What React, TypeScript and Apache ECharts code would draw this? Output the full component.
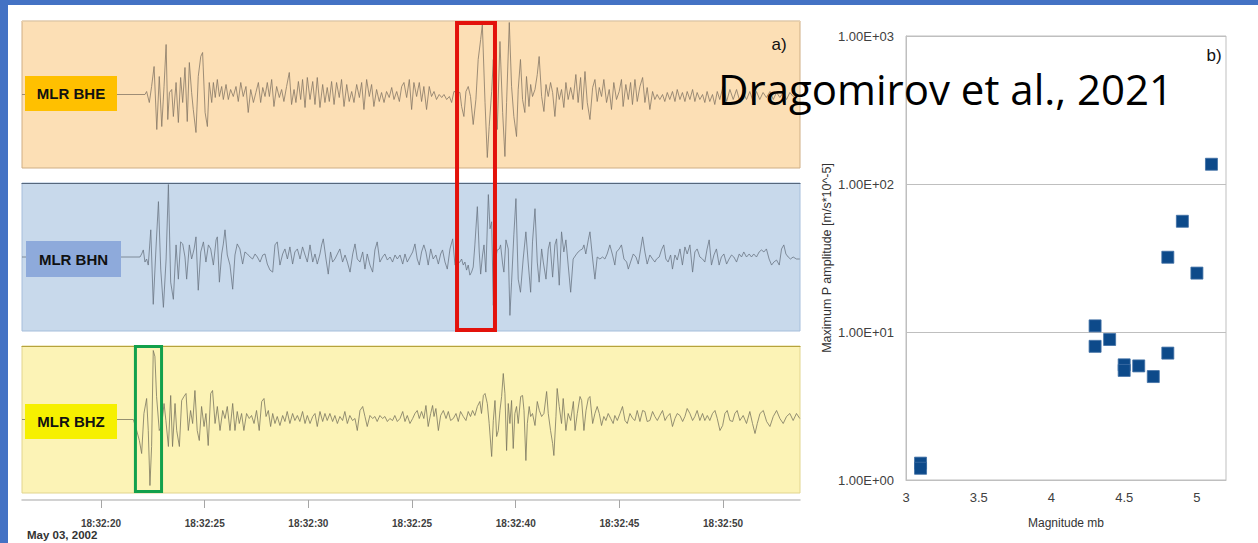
import React, { useEffect, useRef } from "react";
import * as echarts from "echarts";

// ---------- Panel a) seismograms ----------
const TIME_MIN = 16.19;
const TIME_MAX = 53.71;
const TIME_TICKS = [20, 25, 30, 35, 40, 45, 50];
const TIME_TICK_LABELS = ["18:32:20", "18:32:25", "18:32:30", "18:32:25", "18:32:40", "18:32:45", "18:32:50"];
const DATE_LABEL = "May 03, 2002";
const STATIONS = ["MLR BHE", "MLR BHN", "MLR BHZ"];
const RED_WINDOW = [37.17, 39.0];
const GREEN_WINDOW = [21.66, 22.92];

// [time (s), amplitude (counts)]
const BHE: number[][] = [
  [16.19,0],[22.12,0],[22.20,3],[22.33,-8],[22.44,8],[22.56,28],[22.69,-35],[22.81,18],[22.93,-32],[23.04,8],[23.14,50],[23.22,-25],[23.30,2],[23.41,5],[23.49,-22],[23.62,12],[23.73,-28],[23.84,17],[23.94,-8],[24.05,27],[24.16,-27],[24.26,32],[24.37,2],[24.45,-15],[24.58,-38],[24.69,18],[24.81,38],[24.90,42],[25.02,-18],[25.13,-32],[25.22,12],[25.34,-8],[25.42,12],[25.51,-3],[25.61,15],[25.71,-2],[25.82,8],[25.90,-5],[26.03,10],[26.14,-5],[26.25,5],[26.38,-2],[26.51,8],[26.62,-7],[26.74,12],[26.86,-2],[26.99,8],[27.10,-18],[27.22,5],[27.35,-8],[27.47,2],[27.59,12],[27.70,-8],[27.80,7],[27.91,-2],[28.02,12],[28.12,-2],[28.23,15],[28.34,-12],[28.47,8],[28.60,-3],[28.71,5],[28.82,-7],[28.95,8],[29.08,22],[29.19,-10],[29.31,5],[29.40,-8],[29.52,13],[29.63,-5],[29.72,15],[29.84,-13],[29.95,17],[30.08,-5],[30.21,13],[30.32,-10],[30.43,17],[30.56,-13],[30.69,10],[30.80,-8],[30.91,7],[31.01,-7],[31.12,13],[31.24,-10],[31.36,12],[31.49,-3],[31.60,15],[31.72,-12],[31.85,10],[31.97,-7],[32.09,3],[32.20,-8],[32.33,10],[32.46,-3],[32.57,12],[32.68,-15],[32.81,15],[32.94,-2],[33.05,10],[33.16,-12],[33.29,5],[33.42,-7],[33.53,2],[33.65,-8],[33.77,3],[33.90,-3],[34.02,7],[34.13,-5],[34.26,3],[34.39,-7],[34.50,8],[34.61,12],[34.74,-3],[34.87,15],[34.98,-15],[35.09,12],[35.22,-2],[35.35,12],[35.46,-7],[35.57,8],[35.70,-15],[35.83,8],[35.94,-2],[36.06,3],[36.18,-5],[36.31,0],[36.43,-3],[36.54,0],[36.67,-5],[36.80,-2],[36.91,-8],[37.02,3],
  [37.31,2],[37.39,-12],[37.50,-22],[37.60,3],[37.71,8],[37.82,-2],[37.95,-30],[38.08,-5],[38.19,35],[38.31,55],[38.39,70],[38.52,-8],[38.63,-63],[38.72,-32],[38.84,3],[38.92,35],[39.00,-5],[39.11,-35],[39.24,53],[39.37,-18],[39.48,-62],[39.56,-8],[39.69,72],[39.80,8],[39.91,-22],[40.04,-42],[40.12,5],[40.23,35],[40.33,-5],[40.44,-18],[40.52,18],[40.64,-12],[40.72,10],[40.81,-2],[40.93,5],[41.04,20],[41.13,38],[41.25,-2],[41.36,-17],[41.46,10],[41.57,-2],[41.68,12],[41.78,2],[41.89,-22],[42.00,7],[42.10,-5],[42.21,5],[42.32,-13],[42.42,12],[42.53,-5],[42.65,7],[42.77,-5],[42.90,20],[43.01,-8],[43.13,17],[43.22,-15],[43.34,23],[43.45,-8],[43.58,-25],[43.71,7],[43.82,15],[43.93,-7],[44.03,7],[44.14,-2],[44.25,15],[44.38,-8],[44.51,5],[44.62,-15],[44.73,12],[44.86,-5],[44.99,3],[45.10,15],[45.18,-12],[45.31,10],[45.43,-5],[45.54,12],[45.63,-10],[45.75,15],[45.86,-7],[45.99,8],[46.12,17],[46.23,-8],[46.34,7],[46.47,-15],[46.60,3],[46.71,-5],[46.82,0],[46.95,-5],[47.08,0],[47.19,-7],[47.31,2],[47.43,-5],[47.56,3],[47.68,-7],[47.79,5],[47.92,-5],[48.04,2],[48.16,-7],[48.27,3],[48.40,-5],[48.53,5],[48.64,-7],[48.75,2],[48.88,-5],[49.01,0],[49.12,-8],[49.23,3],[49.36,-7],[49.49,0],[49.60,-10],[49.72,3],[49.84,-5],[50.00,8],[50.17,-7],[50.33,5],[50.49,-5],[50.65,5],[50.81,-7],[50.97,2],[51.13,-5],[51.29,3],[51.45,-7],[51.61,3],[51.77,-5],[51.93,2],[52.09,-3],[52.26,3],[52.42,-5],[52.58,2],[52.74,-3],[52.90,2],[53.06,-5],[53.22,2],[53.38,-2],[53.54,0],[53.70,-2]
];

const BHN: number[][] = [
  [16.19,0],[21.88,0],[21.96,3],[22.04,7],[22.12,-5],[22.20,-2],[22.28,-8],[22.40,27],[22.52,-47],[22.65,8],[22.77,55],[22.88,-12],[23.01,-50],[23.14,-2],[23.25,72],[23.36,-25],[23.49,-42],[23.62,12],[23.73,-22],[23.84,15],[23.94,13],[24.05,0],[24.13,-22],[24.26,12],[24.37,-2],[24.49,8],[24.58,20],[24.69,-33],[24.81,5],[24.94,15],[25.06,-5],[25.18,12],[25.29,8],[25.42,-8],[25.55,17],[25.61,20],[25.71,-25],[25.82,3],[25.90,13],[25.98,27],[26.09,2],[26.22,-8],[26.35,-32],[26.46,2],[26.57,13],[26.70,8],[26.83,-7],[26.94,5],[27.06,3],[27.19,0],[27.31,-2],[27.43,3],[27.54,0],[27.67,-5],[27.80,2],[27.91,3],[28.02,-7],[28.15,-13],[28.28,-15],[28.39,12],[28.50,15],[28.63,-8],[28.76,3],[28.87,8],[28.99,-2],[29.11,10],[29.24,-7],[29.35,5],[29.47,8],[29.60,-2],[29.72,10],[29.84,2],[29.95,-5],[30.08,12],[30.21,-5],[30.32,3],[30.43,-7],[30.56,3],[30.64,12],[30.72,18],[30.85,-2],[30.96,-17],[31.07,5],[31.17,-5],[31.28,-2],[31.40,3],[31.52,8],[31.65,-5],[31.77,2],[31.88,-5],[32.01,-15],[32.14,3],[32.25,13],[32.36,-2],[32.49,-5],[32.62,5],[32.73,-12],[32.84,3],[32.97,-8],[33.10,-15],[33.21,7],[33.32,15],[33.45,-5],[33.58,0],[33.69,3],[33.81,-3],[33.94,0],[34.06,-5],[34.18,2],[34.29,-2],[34.42,2],[34.55,-7],[34.66,3],[34.77,-5],[34.90,0],[35.03,5],[35.14,13],[35.25,-2],[35.35,-8],[35.46,5],[35.57,12],[35.67,5],[35.78,-8],[35.90,8],[36.02,-2],[36.15,2],[36.27,-7],[36.38,3],[36.47,7],[36.59,-5],[36.70,-12],[36.83,8],[36.96,18],[37.07,-8],
  [37.31,-5],[37.39,-2],[37.47,-8],[37.55,-5],[37.63,-13],[37.71,-8],[37.79,-18],[37.87,-15],[37.95,-10],[38.03,12],[38.15,50],[38.24,5],[38.31,-17],[38.40,2],[38.47,12],[38.56,-15],[38.68,62],[38.76,28],[38.84,35],[38.92,-48],[39.00,-5],[39.11,7],[39.21,8],[39.27,12],[39.37,-7],[39.43,-15],[39.53,17],[39.64,8],[39.72,-58],[39.80,-25],[39.91,22],[40.01,58],[40.12,-22],[40.23,-35],[40.36,-2],[40.49,25],[40.60,-5],[40.72,-35],[40.81,15],[40.93,48],[41.04,-5],[41.13,-25],[41.25,8],[41.33,-5],[41.46,-22],[41.57,8],[41.65,15],[41.78,-20],[41.89,12],[41.97,18],[42.10,-28],[42.21,25],[42.32,5],[42.42,17],[42.53,-8],[42.65,-35],[42.77,-2],[42.90,2],[43.01,5],[43.13,7],[43.22,8],[43.29,12],[43.38,3],[43.50,17],[43.58,25],[43.71,-2],[43.82,-22],[43.93,0],[44.06,-2],[44.19,0],[44.30,-2],[44.41,3],[44.54,12],[44.67,2],[44.78,-8],[44.86,5],[44.99,8],[45.10,12],[45.22,-2],[45.35,-5],[45.43,-12],[45.54,-5],[45.67,3],[45.80,0],[45.91,-7],[46.02,7],[46.12,20],[46.23,5],[46.34,-7],[46.47,2],[46.60,-2],[46.71,-5],[46.79,-2],[46.92,0],[47.03,7],[47.14,12],[47.24,-2],[47.35,-5],[47.47,2],[47.56,-12],[47.68,2],[47.79,-3],[47.92,8],[48.04,-8],[48.16,10],[48.27,3],[48.40,12],[48.53,-15],[48.64,5],[48.75,8],[48.88,0],[49.01,-2],[49.12,-5],[49.23,8],[49.33,17],[49.44,-8],[49.56,2],[49.68,8],[49.81,-8],[49.92,0],[50.04,3],[50.17,-7],[50.29,-2],[50.41,2],[50.52,0],[50.65,-5],[50.78,3],[50.89,0],[51.00,5],[51.13,0],[51.26,3],[51.37,0],[51.48,3],[51.61,0],[51.74,5],[51.85,7],[51.97,5],[52.09,8],[52.22,-2],[52.34,-8],[52.45,-5],[52.58,-3],[52.71,-8],[52.82,8],[52.93,12],[53.03,3],[53.14,0],[53.25,-2],[53.38,0],[53.54,-2],[53.70,-2]
];

const BHZ: number[][] = [
  [16.19,0],[21.56,0],[21.72,-11],[21.85,-21],[21.96,-34],[22.07,6],[22.20,21],[22.28,-11],[22.36,-66],[22.44,-27],[22.52,69],[22.60,63],[22.68,23],[22.81,-11],[22.92,-7],[23.04,16],[23.13,-1],[23.25,-27],[23.36,24],[23.45,-27],[23.57,16],[23.65,-11],[23.78,-27],[23.89,19],[24.00,23],[24.10,26],[24.21,-11],[24.32,9],[24.42,-4],[24.53,29],[24.64,-11],[24.74,-21],[24.85,13],[24.97,-7],[25.06,6],[25.17,-26],[25.29,26],[25.38,29],[25.50,-4],[25.61,13],[25.74,-11],[25.87,9],[25.98,1],[26.09,13],[26.22,-11],[26.35,16],[26.46,-11],[26.57,8],[26.67,-4],[26.78,6],[26.89,-11],[27.02,6],[27.15,1],[27.26,4],[27.38,-4],[27.50,9],[27.63,-11],[27.75,18],[27.86,21],[27.96,3],[28.07,9],[28.18,-7],[28.28,6],[28.39,-4],[28.50,3],[28.63,-6],[28.76,4],[28.87,-2],[28.98,8],[29.11,-4],[29.24,6],[29.35,-1],[29.47,4],[29.59,-2],[29.72,8],[29.84,-4],[29.95,4],[30.08,-4],[30.21,3],[30.32,6],[30.43,-7],[30.56,8],[30.69,-2],[30.80,6],[30.91,-1],[31.04,6],[31.17,-2],[31.28,4],[31.40,-4],[31.52,3],[31.65,-1],[31.76,8],[31.88,-4],[32.00,4],[32.13,-1],[32.25,1],[32.36,-11],[32.49,9],[32.62,13],[32.73,3],[32.84,-7],[32.97,4],[33.10,1],[33.21,3],[33.32,-2],[33.45,4],[33.58,1],[33.69,3],[33.81,-2],[33.93,1],[34.06,-1],[34.17,4],[34.29,-2],[34.42,1],
  [34.55,8],[34.66,-2],[34.77,4],[34.90,-4],[35.03,1],[35.14,6],[35.25,9],[35.35,1],[35.46,8],[35.57,1],[35.67,14],[35.78,-7],[35.90,6],[35.99,14],[36.06,3],[36.15,11],[36.27,-11],[36.38,4],[36.51,9],[36.64,1],[36.75,8],[36.86,-1],[36.99,1],[37.12,6],[37.23,-2],[37.34,8],[37.47,3],[37.60,-1],[37.71,8],[37.82,3],[37.92,9],[38.03,4],[38.15,13],[38.27,18],[38.35,6],[38.44,24],[38.52,26],[38.63,16],[38.72,-4],[38.84,-37],[38.92,-1],[39.00,19],[39.08,-17],[39.16,-11],[39.24,9],[39.32,23],[39.40,46],[39.48,26],[39.56,-31],[39.64,16],[39.72,-4],[39.80,19],[39.88,-29],[39.96,6],[40.04,13],[40.12,-4],[40.24,23],[40.33,24],[40.40,9],[40.49,-41],[40.56,-4],[40.65,13],[40.72,3],[40.81,6],[40.93,-6],[41.04,18],[41.14,9],[41.25,3],[41.36,6],[41.49,28],[41.57,6],[41.68,-11],[41.78,-24],[41.84,-36],[41.94,3],[42.00,31],[42.10,13],[42.21,-4],[42.29,21],[42.42,-11],[42.53,6],[42.65,-1],[42.78,18],[42.86,-11],[42.97,6],[43.10,23],[43.18,19],[43.29,-11],[43.39,9],[43.50,21],[43.58,23],[43.71,-4],[43.82,6],[43.93,13],[44.03,6],[44.14,-6],[44.25,3],[44.35,-1],[44.46,6],[44.58,1],[44.70,-4],[44.78,4],[44.90,-1],[45.03,6],[45.15,13],[45.27,-1],[45.38,-4],[45.51,6],[45.64,1],[45.75,-1],[45.86,9],[45.99,-2],[46.12,9],[46.23,8],[46.34,-2],[46.47,-1],[46.60,8],[46.71,3],[46.83,-1],[46.95,4],[47.08,9],[47.20,-1],[47.31,3],[47.44,6],[47.56,-7],[47.68,1],[47.79,6],[47.92,4],[48.05,-2],[48.16,3],[48.27,11],[48.40,6],[48.53,-1],[48.64,3],[48.75,9],[48.88,-1],[49.01,6],[49.12,-1],[49.24,4],[49.36,-1],[49.49,6],[49.61,9],[49.72,1],[49.85,-11],[49.98,-6],[50.09,6],[50.20,9],[50.33,-1],[50.46,-2],[50.57,6],[50.68,9],[50.81,-1],[50.97,4],[51.13,-4],[51.29,8],[51.42,-4],[51.54,-14],[51.65,-4],[51.78,6],[51.94,9],[52.10,-2],[52.26,-7],[52.42,3],[52.58,9],[52.74,1],[52.90,-4],[53.06,3],[53.22,6],[53.38,-1],[53.54,6],[53.70,1]
];

// ---------- Panel b) scatter ----------
const MAGNITUDES = [3.1, 3.1, 4.3, 4.3, 4.4, 4.5, 4.5, 4.6, 4.7, 4.8, 4.8, 4.9, 5.0, 5.1];
const AMPLITUDES = [1.3, 1.2, 11, 8, 8.9, 6.0, 5.5, 5.9, 5.0, 7.2, 32, 56, 25, 136];
const X_TICKS = [3, 3.5, 4, 4.5, 5];
const Y_TICK_LABELS = ["1.00E+00", "1.00E+01", "1.00E+02", "1.00E+03"];
const X_NAME = "Magnitude mb";
const Y_NAME = "Maximum P amplitude [m/s*10^-5]";
const CITATION = "Dragomirov et al., 2021";

const FONT = "'Liberation Sans', Arial, sans-serif";

export default function App() {
  const ref = useRef<HTMLDivElement>(null);

  useEffect(() => {
    if (!ref.current) return;
    const chart = echarts.init(ref.current, undefined, { renderer: "svg" });

    const traceGrid = (top: number, height: number, bg: string, border: string) => ({
      left: 22, top, width: 778, height, show: true, backgroundColor: bg, borderColor: border, borderWidth: 1,
    });
    const topAxis = (gridIndex: number, color: string) => ({
      type: "value", gridIndex, min: TIME_MIN, max: TIME_MAX, position: "top",
      axisLine: { show: true, onZero: false, lineStyle: { color, width: 1.2 } },
      axisTick: { show: false }, axisLabel: { show: false }, splitLine: { show: false },
    });
    const ampAxis = (gridIndex: number) => ({
      type: "value", gridIndex, min: -73.5, max: 73.5, show: false, splitLine: { show: false },
    });
    const trace = (idx: number, data: number[][], color: string) => ({
      type: "line", xAxisIndex: idx, yAxisIndex: idx, data, symbol: "none", silent: true,
      lineStyle: { width: 0.8, color }, clip: true, z: 3,
    });

    chart.setOption({
      animation: false,
      textStyle: { fontFamily: FONT },
      grid: [
        traceGrid(21, 147, "#FCDFB5", "#CFAE84"),
        traceGrid(183, 148, "#C8D9EB", "#A6BEDB"),
        traceGrid(346, 147, "#FCF3B6", "#E2D58E"),
        { left: 906, top: 36, width: 320, height: 444, show: true, borderColor: "#BFBFBF", borderWidth: 1, backgroundColor: "transparent" },
      ],
      xAxis: [
        topAxis(0, "#E8CFAA"),
        topAxis(1, "#56677C"),
        topAxis(2, "#B5A33C"),
        {
          type: "value", gridIndex: 2, min: TIME_MIN, max: TIME_MAX, position: "bottom", offset: 7,
          axisLine: { show: true, onZero: false, lineStyle: { color: "#C3C3C3", width: 1.5 } },
          axisTick: { show: true, length: 8, lineStyle: { color: "#A6A6A6" }, customValues: TIME_TICKS },
          axisLabel: {
            customValues: TIME_TICKS, margin: 18, fontSize: 10, fontWeight: "bold", color: "#404040",
            formatter: (v: number) => {
              const i = TIME_TICKS.findIndex((t) => Math.abs(t - v) < 1e-6);
              return i >= 0 ? TIME_TICK_LABELS[i] : "";
            },
          },
          splitLine: { show: false },
        },
        {
          type: "value", gridIndex: 3, min: 3, max: 5.2, interval: 0.5,
          axisLine: { show: true, onZero: false, lineStyle: { color: "#BFBFBF" } },
          axisTick: { show: false },
          axisLabel: { customValues: X_TICKS, fontSize: 13, color: "#404040", margin: 11 },
          splitLine: { show: false },
          name: X_NAME, nameLocation: "middle", nameGap: 37,
          nameTextStyle: { fontSize: 12, color: "#333333" },
        },
      ],
      yAxis: [
        ampAxis(0), ampAxis(1), ampAxis(2),
        {
          type: "log", logBase: 10, gridIndex: 3, min: 1, max: 1000,
          axisLine: { show: true, onZero: false, lineStyle: { color: "#BFBFBF" } },
          axisTick: { show: false },
          minorTick: { show: false },
          axisLabel: {
            fontSize: 13, color: "#404040", margin: 12,
            formatter: (v: number) => Y_TICK_LABELS[Math.round(Math.log10(v))] ?? "",
          },
          splitLine: { show: true, lineStyle: { color: "#BFBFBF", width: 1 } },
          name: Y_NAME, nameLocation: "middle", nameGap: 73,
          nameTextStyle: { fontSize: 12.5, color: "#333333" },
        },
      ],
      series: [
        trace(0, BHE, "#857766"),
        trace(1, BHN, "#6B7684"),
        trace(2, BHZ, "#7A765F"),
        {
          type: "scatter", xAxisIndex: 4, yAxisIndex: 3,
          data: MAGNITUDES.map((m, i) => [m, AMPLITUDES[i]]),
          symbol: "rect", symbolSize: 12, silent: true,
          itemStyle: { color: "#0D4A8A", borderColor: "#3F6FA5", borderWidth: 0.8, opacity: 1 },
        },
      ],
    });

    const px = (v: number) => chart.convertToPixel({ xAxisIndex: 0 }, v) as number;
    const rx0 = px(RED_WINDOW[0]), rx1 = px(RED_WINDOW[1]);
    const gx0 = px(GREEN_WINDOW[0]), gx1 = px(GREEN_WINDOW[1]);

    const labelBox = (x: number, y: number, w: number, h: number, fill: string, text: string) => ({
      type: "group", z: 20,
      children: [
        { type: "rect", shape: { x, y, width: w, height: h }, style: { fill }, z: 20 },
        {
          type: "text", x: x + w / 2, y: y + h / 2, z: 21,
          style: { text, fill: "#111111", font: `bold 15px ${FONT}`, align: "center", verticalAlign: "middle" },
        },
      ],
    });

    chart.setOption({
      graphic: [
        { type: "rect", shape: { x: 0, y: 0, width: 1258, height: 5 }, style: { fill: "#4472C4" }, z: 30 },
        { type: "rect", shape: { x: 0, y: 0, width: 8, height: 543 }, style: { fill: "#4472C4" }, z: 30 },
        labelBox(25, 76, 92, 35, "#FFC000", STATIONS[0]),
        labelBox(26, 241, 95, 36, "#8EAADB", STATIONS[1]),
        labelBox(25, 404, 92, 35, "#F6F000", STATIONS[2]),
        {
          type: "rect", z: 25, shape: { x: rx0, y: 23, width: rx1 - rx0, height: 307 },
          style: { fill: "none", stroke: "#E3120B", lineWidth: 4 },
        },
        {
          type: "rect", z: 25, shape: { x: gx0, y: 346.5, width: gx1 - gx0, height: 145 },
          style: { fill: "none", stroke: "#12A04C", lineWidth: 3 },
        },
        {
          type: "text", x: 779, y: 44, z: 26,
          style: { text: "a)", fill: "#111", font: `17px ${FONT}`, align: "center", verticalAlign: "middle" },
        },
        {
          type: "text", x: 1214, y: 55, z: 26,
          style: { text: "b)", fill: "#111", font: `17px ${FONT}`, align: "center", verticalAlign: "middle" },
        },
        {
          type: "text", x: 718, y: 88, z: 27,
          style: { text: CITATION, fill: "#000", font: `42px 'Open Sans', sans-serif`, align: "left", verticalAlign: "middle" },
        },
        {
          type: "text", x: 27, y: 535, z: 26,
          style: { text: DATE_LABEL, fill: "#333", font: `bold 11.5px ${FONT}`, align: "left", verticalAlign: "middle" },
        },
      ],
    });

    return () => chart.dispose();
  }, []);

  return (
    <div
      ref={ref}
      style={{ position: "fixed", left: 0, top: 0, width: 1258, height: 543, background: "#ffffff" }}
    />
  );
}
